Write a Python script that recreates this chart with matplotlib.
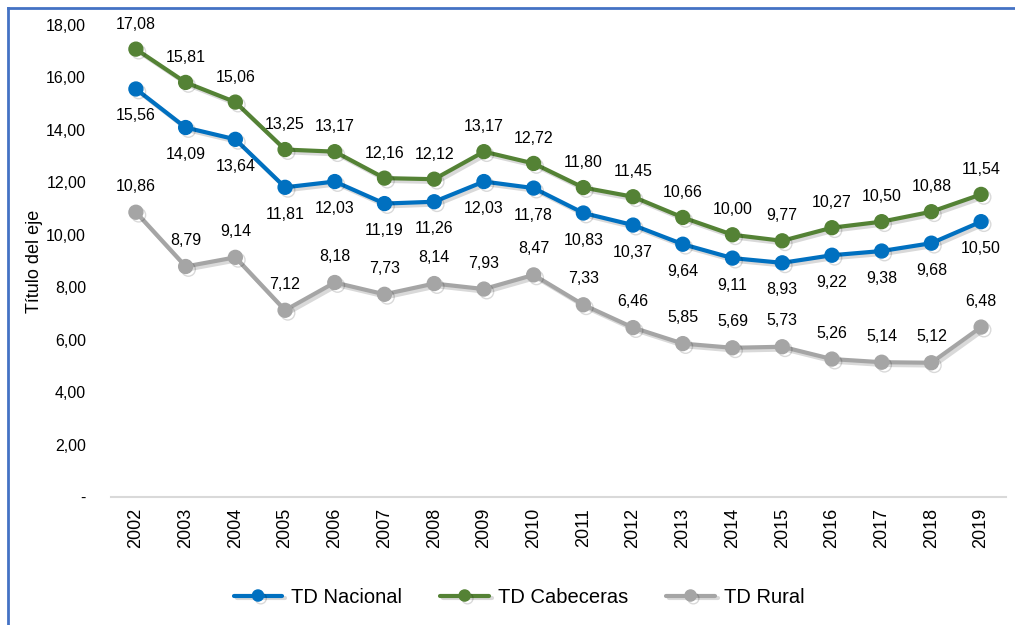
import matplotlib.pyplot as plt
import matplotlib.patheffects as pe
from matplotlib.lines import Line2D

years = [str(y) for y in range(2002, 2020)]
nacional = [15.56, 14.09, 13.64, 11.81, 12.03, 11.19, 11.26, 12.03, 11.78, 10.83,
            10.37, 9.64, 9.11, 8.93, 9.22, 9.38, 9.68, 10.50]
cabeceras = [17.08, 15.81, 15.06, 13.25, 13.17, 12.16, 12.12, 13.17, 12.72, 11.80,
             11.45, 10.66, 10.00, 9.77, 10.27, 10.50, 10.88, 11.54]
rural = [10.86, 8.79, 9.14, 7.12, 8.18, 7.73, 8.14, 7.93, 8.47, 7.33,
         6.46, 5.85, 5.69, 5.73, 5.26, 5.14, 5.12, 6.48]
yticks = [0, 2, 4, 6, 8, 10, 12, 14, 16, 18]

plt.rcParams['font.family'] = ['Liberation Sans', 'DejaVu Sans']

def fmt(v):
    return f"{v:.2f}".replace('.', ',')

fig = plt.figure(figsize=(10.15, 6.25), dpi=100)
ax = fig.add_axes([0.1094, 0.2048, 0.8817, 0.7552])

# blue frame (top and left only visible)
fig.add_artist(Line2D([0.008, 0.008], [0, 0.987], transform=fig.transFigure,
                      color='#4472C4', lw=2))
fig.add_artist(Line2D([0.008, 1], [0.987, 0.987], transform=fig.transFigure,
                      color='#4472C4', lw=2))

x = list(range(len(years)))
shadow = [pe.SimpleLineShadow(offset=(2, -2), alpha=0.15, shadow_color='k'), pe.Normal()]
series = [
    ('TD Nacional', nacional, '#0070C0', -27),
    ('TD Cabeceras', cabeceras, '#548235', 25),
    ('TD Rural', rural, '#A5A5A5', 26),
]
for name, vals, col, off in series:
    ax.plot(x, vals, color=col, lw=3, marker='o', ms=10, label=name,
            path_effects=shadow, solid_capstyle='round')
    for xi, v in zip(x, vals):
        ax.annotate(fmt(v), (xi, v), xytext=(0, off), textcoords='offset pixels',
                    ha='center', va='center', fontsize=11.5)

ax.set_xlim(-0.5, len(years) - 0.5)
ax.set_ylim(0, 18)
ax.set_yticks(yticks)
ax.set_yticklabels(['-' if t == 0 else fmt(t) for t in yticks], fontsize=11.5)
ax.set_xticks(x)
ax.set_xticklabels(years, rotation=90, fontsize=13)
ax.tick_params(length=0)
ax.tick_params(axis='y', pad=18)
ax.tick_params(axis='x', pad=8)
for s in ['top', 'right', 'left']:
    ax.spines[s].set_visible(False)
ax.spines['bottom'].set_color('#D9D9D9')
ax.spines['bottom'].set_linewidth(1.5)
ax.set_ylabel('Título del eje', fontsize=13, labelpad=2)

leg = ax.legend(loc='center', bbox_to_anchor=(0.456, -0.212), ncol=3, frameon=False,
                fontsize=14.5, handlelength=2.4, handletextpad=0.45,
                columnspacing=1.9, markerscale=0.8)

fig.savefig('out.png', dpi=100)
